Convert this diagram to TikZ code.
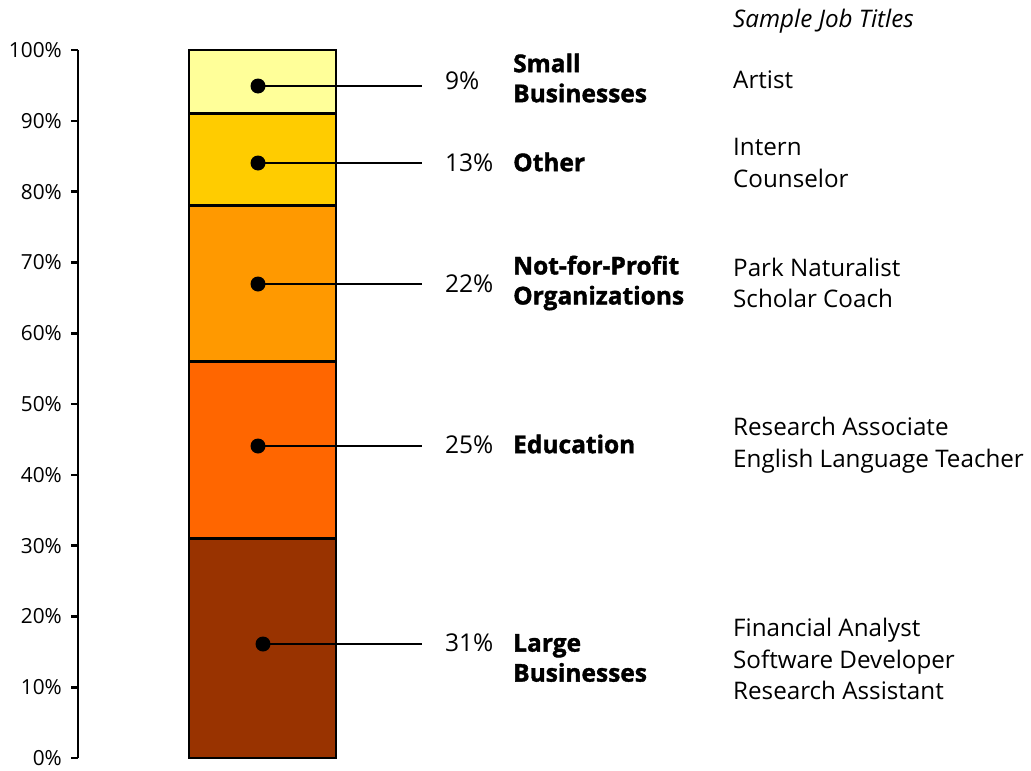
\documentclass[tikz,border=0pt]{standalone}
\usepackage{fontspec}
\setmainfont{Open Sans}[BoldFeatures={FakeBold=1.5}]
\definecolor{c1}{HTML}{FFFF99}
\definecolor{c2}{HTML}{FFCC00}
\definecolor{c3}{HTML}{FF9900}
\definecolor{c4}{HTML}{FF6600}
\definecolor{c5}{HTML}{993300}
\begin{document}
\begin{tikzpicture}[x=1pt,y=-1pt,
  seg/.style={draw=black, line width=2.6pt},
  dotnode/.style={circle, fill=black, inner sep=0pt, minimum size=15pt},
  lead/.style={line width=2.2pt},
  axisline/.style={line width=2.6pt},
  ticklab/.style={font=\fontsize{20.8}{22}\selectfont, anchor=east, inner sep=0pt},
  pct/.style={font=\fontsize{24.5}{26}\selectfont, anchor=west, inner sep=0pt},
  cat/.style={font=\fontsize{24.5}{30}\selectfont\bfseries, anchor=west, align=left, inner sep=0pt},
  job/.style={font=\fontsize{24.2}{31.5}\selectfont, anchor=west, align=left, inner sep=0pt}]
\useasboundingbox (0,0) rectangle (1031,771);
% axis
\draw[axisline] (78,50) -- (78,758);
\foreach \v [count=\k from 0] in {0,10,...,100} {
  \pgfmathsetmacro{\yy}{758-70.8*\k}
  \draw[axisline] (71,\yy) -- (78,\yy);
  \node[ticklab] (t\k) at (62,\yy) {\v\%};
}
% bar segments
\draw[seg, fill=c1] (189,50) rectangle (336,113.7);
\draw[seg, fill=c2] (189,113.7) rectangle (336,205.7);
\draw[seg, fill=c3] (189,205.7) rectangle (336,361.5);
\draw[seg, fill=c4] (189,361.5) rectangle (336,538.5);
\draw[seg, fill=c5] (189,538.5) rectangle (336,758);
% dots and leaders
\node[dotnode] (d1) at (258,86) {};
\node[dotnode] (d2) at (258,163) {};
\node[dotnode] (d3) at (258,284) {};
\node[dotnode] (d4) at (258,446) {};
\node[dotnode] (d5) at (263,644) {};
\coordinate (e1) at (422,86);
\coordinate (e2) at (422,163);
\coordinate (e3) at (422,284);
\coordinate (e4) at (422,446);
\coordinate (e5) at (422,644);
\foreach \i in {1,...,5} \draw[lead] (d\i.center) -- (e\i);
% percentages
\node[pct] (p1) at (445,81) {9\%};
\node[pct] (p2) at (445,163) {13\%};
\node[pct] (p3) at (445,284) {22\%};
\node[pct] (p4) at (445,445) {25\%};
\node[pct] (p5) at (445,643) {31\%};
% categories
\node[cat] (k1) at (513,78) {Small\\Businesses};
\node[cat] (k2) at (513,162) {Other};
\node[cat] (k3) at (513,283) {Not-for-Profit\\Organizations};
\node[cat] (k4) at (513,444) {Education};
\node[cat] (k5) at (513,658) {Large\\Businesses};
% job titles
\node[job, font=\fontsize{24.2}{26}\selectfont\itshape] (h) at (733,21) {Sample Job Titles};
\node[job] (j1) at (733,80) {Artist};
\node[job] (j2) at (733,163) {Intern\\Counselor};
\node[job] (j3) at (733,283) {Park Naturalist\\Scholar Coach};
\node[job] (j4) at (733,445) {Research Associate\\English Language Teacher};
\node[job] (j5) at (733,659) {Financial Analyst\\Software Developer\\Research Assistant};
\end{tikzpicture}
\end{document}
